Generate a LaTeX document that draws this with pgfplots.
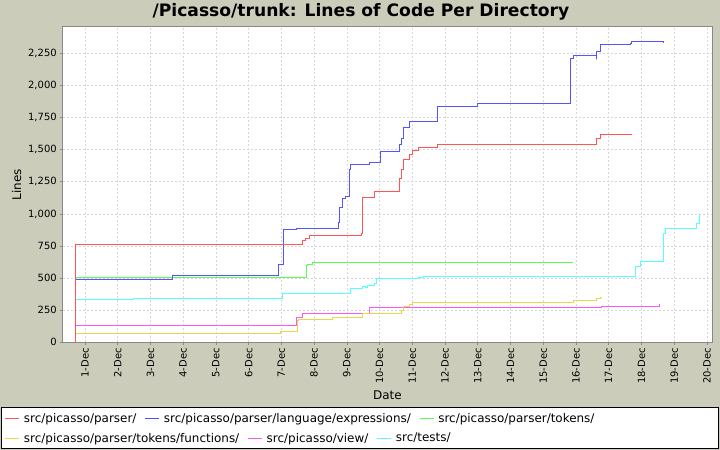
\documentclass[border=0pt]{standalone}
\usepackage{pgfplots}
\pgfplotsset{compat=1.18}
\usepackage{fontspec}
\setmainfont{DejaVu Sans}
\definecolor{bg}{RGB}{204,204,187}
\definecolor{cred}{RGB}{255,85,85}
\definecolor{cblue}{RGB}{85,85,255}
\definecolor{cgreen}{RGB}{85,255,85}
\definecolor{cyellow}{RGB}{232,216,72}
\definecolor{cmag}{RGB}{255,85,255}
\definecolor{ccyan}{RGB}{85,255,255}
\definecolor{gridc}{RGB}{215,215,215}
\definecolor{axc}{RGB}{136,136,136}
\pgfplotsset{
  common/.style={
    at={(62.7bp,107.7bp)}, anchor=south west,
    scale only axis, width=649.3bp, height=315.6bp,
    xmin=0.319, xmax=20.157, ymin=0, ymax=2458,
  },
  lg/.style={
    legend columns=3,
    legend image code/.code={\draw[##1,line width=1bp] (0bp,0bp) -- (14bp,0bp);},
    legend style={draw=none, fill=none, inner sep=0bp, outer sep=0bp,
      font=\fontsize{12}{14}\selectfont,
      nodes={inner sep=0bp, outer sep=0bp},
      /tikz/every odd column/.append style={column sep=4bp},
      /tikz/every even column/.append style={column sep=8.5bp},
      anchor=west},
  },
}
\begin{document}
\begin{tikzpicture}[x=1bp,y=1bp]
\useasboundingbox (0,0) rectangle (720,450);
\fill[bg] (0,0) rectangle (720,450);
\node[font=\bfseries\fontsize{17.2}{20}\selectfont] at (361,438.5) {/Picasso/trunk: Lines of Code Per Directory};
\filldraw[fill=white,draw=black,line width=0.8bp] (1.5,2) rectangle (718.5,43);
\begin{axis}[
  common, lg,
  legend style={at={(-0.08887,-0.2414)}},
  axis background/.style={fill=white},
  xtick={1,...,20},
  xticklabels={1-Dec,2-Dec,3-Dec,4-Dec,5-Dec,6-Dec,7-Dec,8-Dec,9-Dec,10-Dec,11-Dec,12-Dec,13-Dec,14-Dec,15-Dec,16-Dec,17-Dec,18-Dec,19-Dec,20-Dec},
  xticklabel style={rotate=90, anchor=east, font=\fontsize{10}{12}\selectfont},
  ytick={0,250,...,2250},
  yticklabel style={font=\fontsize{10}{12}\selectfont},
  /pgf/number format/1000 sep={,},
  /pgf/number format/assume math mode=true,
  grid=major,
  major grid style={dash pattern=on 2bp off 2bp, gridc, line width=0.6bp},
  axis line style={axc, line width=0.8bp},
  tick style={axc, line width=0.6bp},
  tick align=outside, major tick length=2.5bp,
  xtick pos=bottom, ytick pos=left,
  xlabel={Date}, ylabel={Lines},
  label style={font=\fontsize{12}{14}\selectfont},
  every axis plot/.append style={line width=1bp, const plot, mark=none},
]
\addlegendimage{cred}\addlegendentry{src/picasso/parser/}
\addlegendimage{cblue}\addlegendentry{src/picasso/parser/language/expressions/}
\addlegendimage{cgreen}\addlegendentry{src/picasso/parser/tokens/}
% src/tests/
\addplot[ccyan, forget plot] coordinates {
 (0.716,0) (0.716,336) (2.497,344) (7.028,383) (9.118,422) (9.472,432) (9.585,424)
 (9.637,445) (9.860,458) (9.900,500) (11.183,505) (11.357,513) (17.813,594)
 (17.957,633) (18.669,851) (18.751,883) (19.677,922) (19.769,1000)};
% src/picasso/view/
\addplot[cmag, forget plot] coordinates {
 (0.716,0) (0.716,133) (7.456,195) (7.639,227) (9.698,273) (16.774,281) (18.559,299)};
% src/picasso/parser/tokens/functions/
\addplot[cyellow, forget plot] coordinates {
 (0.716,0) (0.716,70) (6.979,86) (7.486,166) (7.529,174) (8.556,190) (9.472,221)
 (10.664,250) (10.725,281) (10.908,297) (11.0,312) (15.919,328) (16.622,344)
 (16.744,352) (16.79,352)};
% src/picasso/parser/tokens/
\addplot[cgreen, forget plot] coordinates {
 (0.716,0) (0.716,508) (7.761,596) (7.792,609) (7.945,620) (15.919,620)};
% src/picasso/parser/language/expressions/
\addplot[cblue, forget plot] coordinates {
 (0.716,0) (0.716,489) (3.667,520) (6.927,609) (7.059,875) (7.477,883) (8.739,930)
 (8.770,1052) (8.873,1120) (8.944,1135) (9.075,1344) (9.118,1383) (9.698,1398)
 (10.022,1484) (10.603,1539) (10.676,1586) (10.725,1672) (10.908,1719)
 (11.776,1833) (12.998,1856) (15.827,2211) (15.919,2234) (16.622,2203)
 (16.622,2266) (16.744,2320) (17.673,2330) (17.704,2344) (18.669,2344) (18.669,2334)};
% src/picasso/parser/
\addplot[cred, forget plot] coordinates {
 (0.716,0) (0.716,758) (7.639,789) (7.743,812) (7.853,828) (9.454,851) (9.472,1125)
 (9.830,1172) (10.603,1273) (10.676,1344) (10.725,1422) (10.908,1463) (11.0,1495)
 (11.183,1516) (11.776,1539) (16.622,1586) (16.744,1617) (17.704,1617)};
\end{axis}
\begin{axis}[
  common, lg, hide axis,
  legend style={at={(-0.08887,-0.3042)}},
]
\addlegendimage{cyellow}\addlegendentry{src/picasso/parser/tokens/functions/}
\addlegendimage{cmag}\addlegendentry{src/picasso/view/}
\addlegendimage{ccyan}\addlegendentry{src/tests/}
\end{axis}
\end{tikzpicture}
\end{document}
